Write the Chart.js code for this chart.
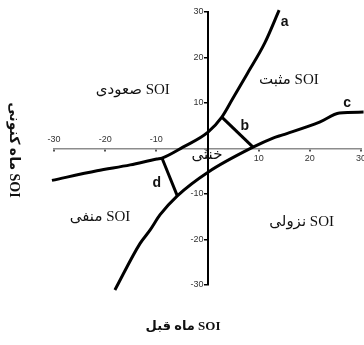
<!DOCTYPE html>
<html>
<head>
<meta charset="utf-8">
<script src="https://cdn.jsdelivr.net/npm/chart.js@4/dist/chart.umd.min.js"></script>
<style>
  body { margin: 0; background: #fff; }
  canvas { display: block; }
</style>
</head>
<body>
<canvas id="soiChart" width="364" height="345"></canvas>
<script>
// Curve a (upper boundary)
const curveAx = [-30.4, -21.6, -15.1, -9.9, -8.9, -4.8, 0.1, 2.8, 4.8, 7.8, 11.2, 14.0];
const curveAy = [-7.0, -4.9, -3.6, -2.3, -2.1, 0.3, 3.6, 6.9, 10.7, 16.5, 23.2, 30.4];
// Curve c (lower boundary)
const curveCx = [-18.1, -13.2, -11.2, -9.3, -5.9, 0.1, 8.9, 12.8, 14.7, 21.9, 25.8, 30.5];
const curveCy = [-31.1, -20.9, -17.9, -14.6, -10.4, -5.2, 0.3, 2.3, 3.0, 5.8, 7.8, 8.0];
// Connecting segments b and d
const segBx = [2.8, 8.9];
const segBy = [6.9, 0.3];
const segDx = [-8.9, -5.9];
const segDy = [-2.1, -10.4];

const axisMin = -30;
const axisMax = 30;
const tickStep = 10;

// Region names and curve letters (placed in data coordinates)
const regionTexts = ["SOI صعودی", "SOI مثبت", "خنثی", "SOI منفی", "SOI نزولی"];
const regionX = [-14.6, 15.9, -0.1, -21.0, 18.4];
const regionY = [12.9, 15.1, -1.4, -15.1, -16.2];
const letterTexts = ["a", "b", "c", "d"];
const letterX = [15.1, 7.3, 27.3, -9.9];
const letterY = [27.8, 4.9, 10.0, -7.6];

const xTitle = "SOI ماه قبل";
const yTitle = "SOI ماه کنونی";

const toPoints = (xs, ys) => xs.map((x, i) => ({ x: x, y: ys[i] }));

const lineSet = (xs, ys) => ({
  data: toPoints(xs, ys),
  showLine: true,
  borderColor: "#000",
  borderWidth: 3,
  pointRadius: 0,
  cubicInterpolationMode: "monotone",
  clip: false,
});

const noPadding = (scale) => {
  scale.paddingLeft = 0;
  scale.paddingRight = 0;
  scale.paddingTop = 0;
  scale.paddingBottom = 0;
};

// Draw the region labels and axis titles
const labelPlugin = {
  id: "labels",
  afterDatasetsDraw(chart) {
    const ctx = chart.ctx;
    const xs = chart.scales.x;
    const ys = chart.scales.y;
    ctx.save();
    ctx.fillStyle = "#111";
    ctx.textAlign = "center";
    ctx.textBaseline = "middle";

    ctx.direction = "rtl";
    ctx.font = '15px "Liberation Serif", "DejaVu Sans", serif';
    regionTexts.forEach((t, i) => {
      ctx.fillText(t, xs.getPixelForValue(regionX[i]), ys.getPixelForValue(regionY[i]));
    });

    ctx.direction = "ltr";
    ctx.font = 'bold 14px "Liberation Sans", Arial, sans-serif';
    letterTexts.forEach((t, i) => {
      ctx.fillText(t, xs.getPixelForValue(letterX[i]), ys.getPixelForValue(letterY[i]));
    });

    // axis titles
    ctx.direction = "rtl";
    ctx.font = 'bold 13px "Liberation Serif", "DejaVu Sans", serif';
    ctx.fillText(xTitle, 183, 327);

    ctx.font = 'bold 14px "Liberation Serif", "DejaVu Sans", serif';
    ctx.translate(14, 150);
    ctx.rotate(Math.PI / 2);
    ctx.fillText(yTitle, 0, 0);
    ctx.restore();
  },
};

new Chart(document.getElementById("soiChart"), {
  type: "scatter",
  data: {
    datasets: [
      lineSet(curveAx, curveAy),
      lineSet(curveCx, curveCy),
      lineSet(segBx, segBy),
      lineSet(segDx, segDy),
    ],
  },
  options: {
    responsive: false,
    animation: false,
    layout: { padding: { left: 54, right: 3, top: 12, bottom: 60 } },
    plugins: { legend: { display: false }, tooltip: { enabled: false } },
    scales: {
      x: {
        type: "linear",
        position: "center",
        min: axisMin,
        max: axisMax,
        afterFit: noPadding,
        border: { color: "#8c8c8c", width: 1.5 },
        grid: { drawOnChartArea: false, drawTicks: true, tickLength: 2, color: "#555", lineWidth: 2 },
        ticks: {
          stepSize: tickStep,
          padding: 3,
          maxRotation: 0,
          color: "#333",
          font: { family: "Liberation Sans", size: 9 },
          callback: (v) => (v > 0 ? v : ""),
        },
      },
      x2: {
        type: "linear",
        axis: "x",
        position: "center",
        min: axisMin,
        max: axisMax,
        afterFit: noPadding,
        border: { display: false },
        grid: { display: false, drawTicks: false },
        ticks: {
          stepSize: tickStep,
          padding: -14,
          maxRotation: 0,
          color: "#333",
          font: { family: "Liberation Sans", size: 9 },
          callback: (v) => (v < 0 ? v : ""),
        },
      },
      y: {
        type: "linear",
        position: "center",
        min: axisMin,
        max: axisMax,
        afterFit: noPadding,
        border: { color: "#000", width: 2 },
        grid: { drawOnChartArea: false, drawTicks: true, tickLength: 3, color: "#000", lineWidth: 1.5 },
        ticks: {
          stepSize: tickStep,
          padding: 1,
          color: "#333",
          font: { family: "Liberation Sans", size: 9 },
          callback: (v) => (v !== 0 ? v : ""),
        },
      },
    },
  },
  plugins: [labelPlugin],
});
</script>
</body>
</html>
